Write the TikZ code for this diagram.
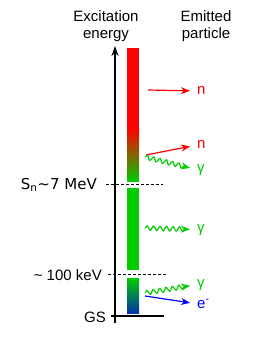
\documentclass[tikz,border=0pt]{standalone}
\usepackage{fontspec}
\setmainfont{Liberation Sans}
\newfontfamily\djvfont{DejaVu Sans}
\usepackage{xcolor}
\usepackage{tikz}
\usetikzlibrary{arrows.meta, decorations.pathmorphing}

\definecolor{gamgreen}{RGB}{0,204,0}
\definecolor{barblue}{RGB}{0,51,170}
\definecolor{nred}{RGB}{255,0,0}
\definecolor{eblue}{RGB}{0,0,255}

\begin{document}
\begin{tikzpicture}[
  x=1pt, y=-1pt,
  txt/.style={inner sep=0pt, font=\fontsize{15}{17}\selectfont},
  lbl/.style={txt, anchor=base west},
  lvl/.style={txt, anchor=base east},
  bar/.style={rectangle, inner sep=0pt, minimum width=12pt},
  arrow/.style={-{Stealth[length=9pt, width=7pt]}, line width=1.2pt, shorten >=7pt},
  wave/.style={arrow, decorate, decoration={snake, amplitude=2.2pt, segment length=6.5pt, post length=11pt}},
  level/.style={dashed, dash pattern=on 3pt off 2pt, line width=0.9pt}
]
  \useasboundingbox (0,0) rectangle (274,355);

  % headings
  \node[txt, align=center, anchor=base] (exc) at (106,39) {Excitation\\energy};
  \node[txt, align=center, anchor=base] (emi) at (206,39) {Emitted\\particle};

  % energy axis
  \coordinate (axbot) at (115,323);
  \coordinate (axtop) at (115,46);
  \draw[-{Stealth[length=10pt, width=7pt]}, line width=1.3pt] (axbot) -- (axtop);

  % bars
  \node[bar, fill=nred, minimum height=80pt] (bar1) at (133,88) {};
  \node[bar, top color=nred, bottom color=gamgreen, minimum height=53pt, anchor=north] (bar2) at (bar1.south) {};
  \node[bar, fill=gamgreen, minimum height=82pt] (bar3) at (133,229) {};
  \node[bar, top color=gamgreen, bottom color=barblue, minimum height=35pt] (bar4) at (133,295.5) {};

  % levels
  \coordinate (sn1) at (106,184);
  \coordinate (sn2) at (163,184);
  \coordinate (kev1) at (108,274);
  \coordinate (kev2) at (167,274);
  \coordinate (gs1) at (111,316);
  \coordinate (gs2) at (164,316);
  \draw[level] (sn1) -- (sn2);
  \draw[level] (kev1) -- (kev2);
  \draw[line width=1.3pt] (gs1) -- (gs2);

  \node[lvl, font=\djvfont\fontsize{15}{17}\selectfont] (snl) at (97,189) {S\textsubscript{n}\textasciitilde7 MeV};
  \node[lvl] (kevl) at (102,280) {\textasciitilde\ 100 keV};
  \node[lvl] (gsl) at (106,322) {GS};

  % emitted particles
  \node[lbl, text=nred] (n1) at (197,95) {n};
  \node[lbl, text=nred] (n2) at (197,149) {n};
  \node[lbl, text=gamgreen] (g1) at (197,172) {γ};
  \node[lbl, text=gamgreen] (g2) at (197,232) {γ};
  \node[lbl, text=gamgreen] (g3) at (197,287) {γ};
  \node[lbl, text=eblue] (e1) at (197,308) {e\textsuperscript{-}};

  \coordinate (n1s) at (148,90);
  \coordinate (n2s) at (146,155);
  \coordinate (g1s) at (145,157);
  \coordinate (g2s) at (145,228);
  \coordinate (g3s) at (145,293);
  \coordinate (e1s) at (145,296);

  \draw[arrow, nred] (n1s) -- (n1.west);
  \draw[arrow, nred] (n2s) -- (n2.west);
  \draw[wave, gamgreen] (g1s) -- (g1.west);
  \draw[wave, gamgreen] (g2s) -- (g2.west);
  \draw[wave, gamgreen] (g3s) -- (g3.west);
  \draw[arrow, eblue] (e1s) -- (e1.west);
\end{tikzpicture}
\end{document}
